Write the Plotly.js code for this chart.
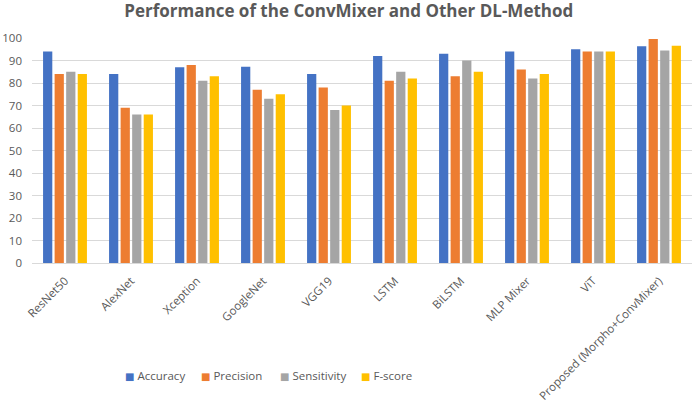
<!DOCTYPE html>
<html>
<head>
<meta charset="utf-8">
<script src="https://cdn.plot.ly/plotly-3.0.1.min.js"></script>
<style>
  html, body { margin: 0; padding: 0; background: #fff; }
  #chart { width: 692px; height: 404px; }
</style>
</head>
<body>
<div id="chart"></div>
<script>
// Model names (x categories)
const models = ['ResNet50', 'AlexNet', 'Xception', 'GoogleNet', 'VGG19', 'LSTM', 'BiLSTM',
                'MLP Mixer', 'ViT', 'Proposed (Morpho+ConvMixer)'];

// Metric values
const accuracy    = [94, 84, 87, 87.2, 84, 92, 93, 94, 95, 96.3];
const precision   = [84, 69, 88, 77, 78, 81, 83, 86, 94, 99.6];
const sensitivity = [85, 66, 81, 73, 68, 85, 90, 82, 94, 94.5];
const fscore      = [84, 66, 83, 75, 70, 82, 85, 84, 94, 96.6];

const seriesNames  = ['Accuracy', 'Precision', 'Sensitivity', 'F-score'];
const seriesColors = ['#4472C4', '#ED7D31', '#A5A5A5', '#FFC000'];

const textColor = '#595959';
const gridColor = '#D9D9D9';

// plot area in pixels (used to place the legend row)
const plotLeft = 32, plotWidth = 660, plotBottom = 263, plotHeight = 225;
const legendLeftPx = [123, 199, 278, 359];
const legendCenterPx = 375;

const traces = [accuracy, precision, sensitivity, fscore].map(function(vals, i) {
    return {
        type: 'bar',
        name: seriesNames[i],
        x: models,
        y: vals,
        marker: { color: seriesColors[i] },
        showlegend: false
    };
});

// Excel-style compact legend: small coloured square followed by the name
const legendNotes = seriesNames.map(function(name, i) {
    return {
        xref: 'paper', yref: 'paper',
        x: (legendLeftPx[i] - plotLeft) / plotWidth,
        y: (plotBottom - legendCenterPx) / plotHeight,
        xanchor: 'left', yanchor: 'middle',
        showarrow: false,
        text: '<span style="color:' + seriesColors[i] + ';font-family:DejaVu Sans;font-size:10px">\u25A0</span> ' + name,
        font: { size: 11.5, color: textColor }
    };
});

const layout = {
    width: 692,
    height: 404,
    margin: { l: 32, r: 0, t: 38, b: 141 },
    paper_bgcolor: '#fff',
    plot_bgcolor: '#fff',
    font: { family: '"Open Sans", sans-serif', size: 11, color: textColor },
    title: {
        text: '<b>Performance of the ConvMixer and Other DL-Method</b>',
        font: { family: '"Open Sans", sans-serif', size: 17, color: textColor },
        x: 0.504,
        xanchor: 'center',
        y: 0.972,
        yanchor: 'middle'
    },
    barmode: 'group',
    bargap: 0.3,
    bargroupgap: 0.2,
    xaxis: {
        type: 'category',
        tickangle: -45,
        showgrid: false,
        showline: false,
        ticks: '',
        ticklabelstandoff: 8,
        tickfont: { size: 11.5, color: textColor },
        fixedrange: true
    },
    yaxis: {
        range: [0, 100],
        dtick: 10,
        showgrid: true,
        gridcolor: gridColor,
        gridwidth: 1,
        zeroline: true,
        zerolinecolor: gridColor,
        zerolinewidth: 1,
        showline: false,
        ticks: '',
        ticklabelstandoff: 9,
        tickfont: { size: 11.5, color: textColor },
        fixedrange: true
    },
    showlegend: false,
    annotations: legendNotes
};

Plotly.newPlot('chart', traces, layout, { displayModeBar: false, staticPlot: true });
</script>
</body>
</html>
